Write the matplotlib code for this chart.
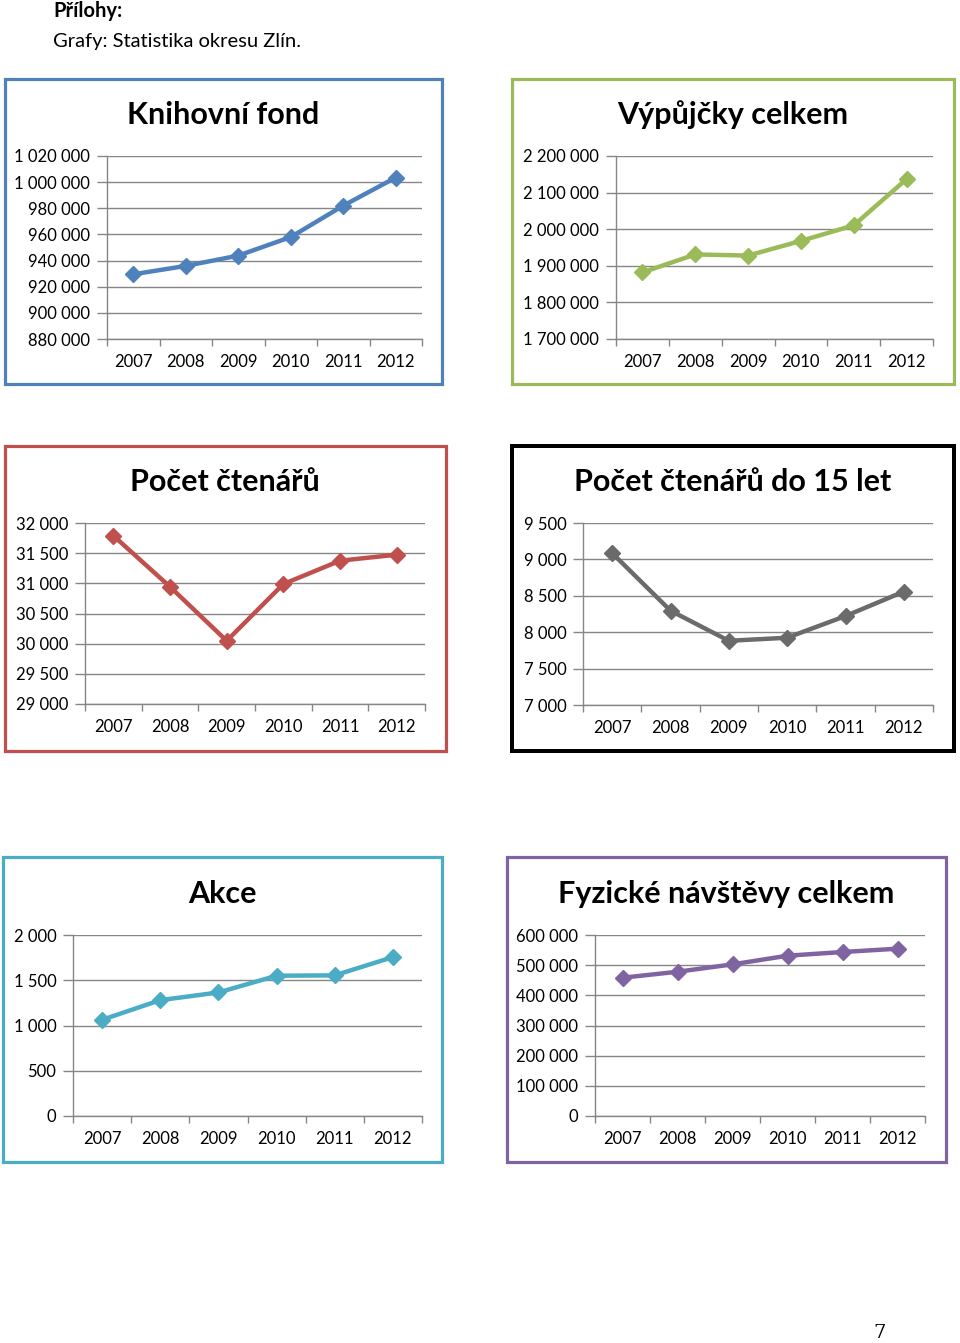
import matplotlib
matplotlib.use("Agg")
import matplotlib.pyplot as plt
from matplotlib.patches import Rectangle
from matplotlib.ticker import FuncFormatter, FixedLocator

plt.rcParams['font.family'] = ['Lato', 'DejaVu Sans']

years = ['2007', '2008', '2009', '2010', '2011', '2012']

knihovni_fond = [929500, 935900, 943800, 958000, 982000, 1003500]
vypujcky = [1882000, 1931000, 1928000, 1968000, 2010600, 2137000]
pocet_ctenaru = [31790, 30943, 30047, 30988, 31375, 31475]
ctenari_do15 = [9086, 8296, 7882, 7924, 8222, 8558]
akce = [1063, 1280, 1365, 1550, 1554, 1756]
navstevy = [458300, 478200, 502600, 531400, 543600, 554600]

titles = ['Knihovní fond', 'Výpůjčky celkem', 'Počet čtenářů',
          'Počet čtenářů do 15 let', 'Akce', 'Fyzické návštěvy celkem']
series = [knihovni_fond, vypujcky, pocet_ctenaru, ctenari_do15, akce, navstevy]
colors = ['#4f81bd', '#9bbb59', '#c0504d', '#6b6b6b', '#4bacc6', '#8064a2']
border_colors = ['#4f81bd', '#9bbb59', '#c0504d', '#000000', '#4bacc6', '#8064a2']
ylims = [(880000, 1020000, 20000), (1700000, 2200000, 100000), (29000, 32000, 500),
         (7000, 9500, 500), (0, 2000, 500), (0, 600000, 100000)]

# layout in pixels
W, H = 960, 1343
borders = [(5, 79, 442, 384), (512, 79, 954, 384), (5, 446, 446, 751),
           (512, 446, 954, 751), (3, 857, 442, 1162), (507, 857, 946, 1162)]
axes_px = [(107, 156, 422, 339), (616, 156, 933, 339), (85, 523, 425, 704),
           (583, 523, 933, 705), (73, 935, 422, 1116), (595, 935, 925, 1116)]
title_pos = [(223, 115), (733, 115), (225, 482), (733, 482), (222, 894), (726, 894)]

fig = plt.figure(figsize=(W / 100, H / 100), dpi=100)

def fx(x):
    return x / W

def fy(y):
    return 1 - y / H

fig.text(fx(53), fy(11), 'Přílohy:', fontsize=14.5, fontweight='bold', va='center', ha='left')
fig.text(fx(53), fy(41), 'Grafy: Statistika okresu Zlín.', fontsize=14.5, va='center', ha='left')
fig.text(fx(880), fy(1333), '7', fontsize=14, family='DejaVu Serif', va='center', ha='center')

fmt = FuncFormatter(lambda v, p: f"{int(round(v)):,}".replace(',', ' '))
grid_c = '#868686'

for i in range(6):
    l, t, r, b = borders[i]
    lw = 4 if i == 3 else 3.2
    fig.add_artist(Rectangle((fx(l), fy(b)), (r - l) / W, (b - t) / H,
                             transform=fig.transFigure, fill=False,
                             edgecolor=border_colors[i], linewidth=lw * 0.72))
    al, at, ar, ab = axes_px[i]
    ax = fig.add_axes([fx(al), fy(ab), (ar - al) / W, (ab - at) / H])
    ymin, ymax, step = ylims[i]
    x = list(range(len(years)))
    ax.plot(x, series[i], color=colors[i], linewidth=3.2, marker='D',
            markersize=8, markeredgecolor=colors[i], markerfacecolor=colors[i],
            zorder=5, clip_on=False)
    ax.set_xlim(-0.5, len(years) - 0.5)
    ax.set_ylim(ymin, ymax)
    yt = list(range(ymin, ymax + 1, step))
    ax.yaxis.set_major_locator(FixedLocator(yt))
    ax.yaxis.set_major_formatter(fmt)
    ax.set_xticks(x)
    ax.set_xticklabels(years)
    ax.set_xticks([k - 0.5 for k in range(len(years) + 1)], minor=True)
    ax.tick_params(axis='x', which='major', length=0, pad=11, labelsize=12)
    ax.tick_params(axis='x', which='minor', length=5, width=1, color=grid_c, direction='out')
    ax.tick_params(axis='y', which='major', length=7, width=1, color=grid_c,
                   direction='out', pad=5, labelsize=12)
    for s in ['top', 'right']:
        ax.spines[s].set_visible(False)
    for s in ['left', 'bottom']:
        ax.spines[s].set_color(grid_c)
        ax.spines[s].set_linewidth(1)
    ax.grid(axis='y', color=grid_c, linewidth=1)
    ax.set_axisbelow(True)
    ax.set_facecolor('none')
    tx, ty = title_pos[i]
    fig.text(fx(tx), fy(ty), titles[i], fontsize=22, fontweight='bold',
             ha='center', va='center')

fig.savefig('out.png', dpi=100)
